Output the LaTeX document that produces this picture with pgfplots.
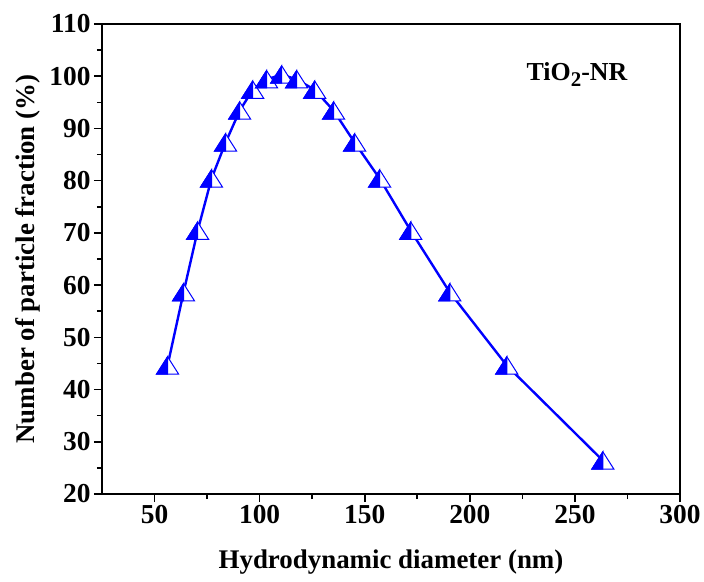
\documentclass[border=0pt]{standalone}
\usepackage{fontspec}
\setmainfont{Liberation Serif}
\usepackage{pgfplots}
\pgfplotsset{compat=1.18}
\pgfdeclareplotmark{halftri}{%
  \pgfpathmoveto{\pgfqpoint{0bp}{8.8bp}}%
  \pgfpathlineto{\pgfqpoint{-11bp}{-8.5bp}}%
  \pgfpathlineto{\pgfqpoint{11bp}{-8.5bp}}%
  \pgfpathclose
  \pgfsetfillcolor{white}\pgfusepathqfillstroke
  \pgfpathmoveto{\pgfqpoint{0bp}{8.8bp}}%
  \pgfpathlineto{\pgfqpoint{-11bp}{-8.5bp}}%
  \pgfpathlineto{\pgfqpoint{0bp}{-8.5bp}}%
  \pgfpathclose
  \pgfsetfillcolor{blue}\pgfusepathqfillstroke
}
\begin{document}
\begin{tikzpicture}
\begin{axis}[
  at={(0,0)}, anchor=south west,
  scale only axis,
  width=578bp, height=470bp,
  xmin=25, xmax=300, ymin=20, ymax=110,
  xtick={50,100,...,300}, ytick={20,30,...,110},
  minor x tick num=1, minor y tick num=1,
  tick pos=left, tick align=outside,
  major tick length=8bp, minor tick length=5bp,
  every tick/.style={black, line width=1.6bp},
  axis line style={line width=2bp},
  /pgf/number format/assume math mode=true,
  tick label style={font=\bfseries\fontsize{27.5}{30}\selectfont},
  xlabel={Hydrodynamic diameter (nm)},
  ylabel={Number of particle fraction (\%)},
  label style={font=\bfseries\fontsize{27}{30}\selectfont},
  xlabel style={at={(axis description cs:0.5,0)}, anchor=north, yshift=-52bp},
  ylabel style={at={(axis description cs:-0.128,0.5)}, anchor=center},
  clip=false,
]
\addplot[blue, line width=2.4bp, mark=halftri, mark options={draw=blue, line width=1bp, solid}]
coordinates {
(56.2,44.6) (63.8,58.6) (70.5,70.4) (77.1,80.4) (83.8,87.3) (90.5,93.4)
(96.7,97.4) (103.3,99.4) (110.5,100.3) (117.6,99.4) (126.2,97.4) (135.2,93.4)
(145.2,87.3) (157.1,80.4) (171.9,70.4) (190.5,58.6) (217.6,44.6) (263.3,26.4)
};
\node[font=\bfseries\fontsize{26}{30}\selectfont, anchor=center] at (axis cs:251,100.4) {TiO\raisebox{-6bp}{\fontsize{21}{24}\selectfont 2}-NR};
\end{axis}
\useasboundingbox (-102bp,-88bp) rectangle (602bp,494bp);
\end{tikzpicture}
\end{document}
